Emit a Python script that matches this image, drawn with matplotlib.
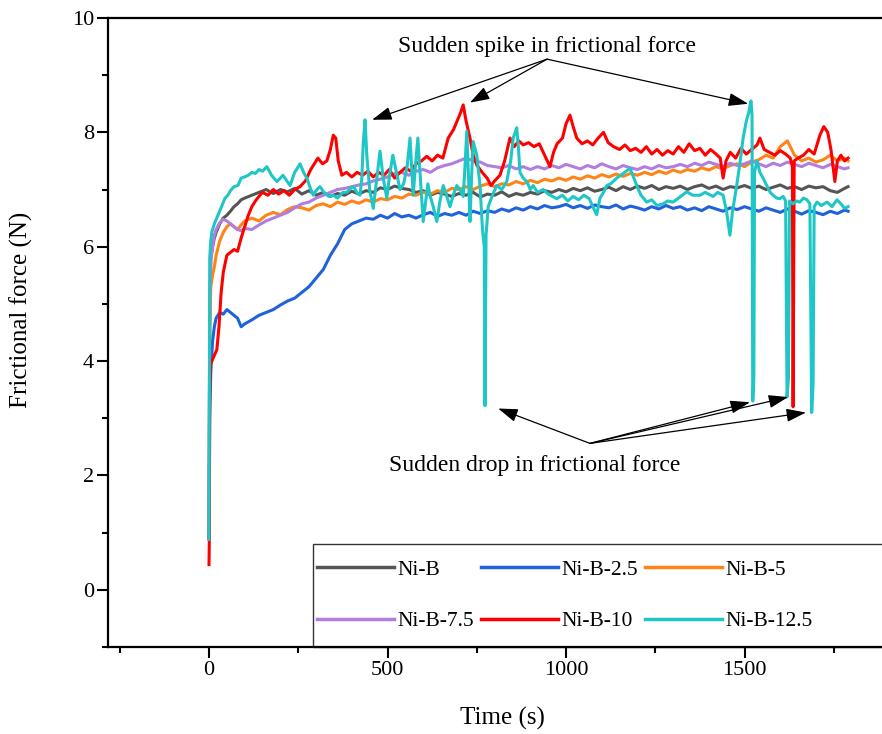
import matplotlib
matplotlib.use("Agg")
import matplotlib.pyplot as plt
from matplotlib.patches import Rectangle
from matplotlib.ticker import MultipleLocator

plt.rcParams["font.family"] = ["Liberation Serif", "DejaVu Serif"]

# sampling times (s) shared by the four smoother curves
time_s = [0, 2, 5, 10, 15, 20, 30, 40, 50, 60, 70, 80, 90, 100,
          120, 140, 160, 180, 200, 220, 240, 260, 280, 300,
          320, 340, 360, 380, 400, 420, 440, 460, 480, 500,
          520, 540, 560, 580, 600, 620, 640, 660, 680, 700,
          720, 740, 760, 780, 800, 820, 840, 860, 880, 900,
          920, 940, 960, 980, 1000, 1020, 1040, 1060, 1080, 1100,
          1120, 1140, 1160, 1180, 1200, 1220, 1240, 1260, 1280, 1300,
          1320, 1340, 1360, 1380, 1400, 1420, 1440, 1460, 1480, 1500,
          1520, 1540, 1560, 1580, 1600, 1620, 1640, 1660, 1680, 1700,
          1720, 1740, 1760, 1780, 1790]

nib = [0.9, 4.6, 5.8, 6.0, 6.15, 6.25, 6.4, 6.5, 6.55, 6.62, 6.7, 6.75, 6.82, 6.85,
       6.9, 6.95, 7.0, 6.93, 7.0, 6.96, 7.02, 6.92, 6.98, 6.9,
       6.95, 6.88, 6.93, 6.9, 6.97, 6.92, 6.98, 6.95, 7.03, 7.0,
       7.06, 7.02, 7.0, 6.95, 6.98, 6.9, 6.95, 6.92, 6.88, 6.93,
       6.9, 6.95, 6.87, 6.92, 6.9, 6.96, 6.88, 6.93, 6.9, 6.95,
       6.92, 6.98, 6.95, 7.0, 6.96, 7.02, 6.98, 7.03, 6.97, 7.0,
       7.04, 6.98, 7.05, 7.0, 7.06, 7.02, 7.07, 7.0, 7.05, 7.02,
       7.06, 7.0, 7.05, 7.08, 7.02, 7.06, 7.0, 7.05, 7.03, 7.07,
       7.02, 7.06, 7.0, 7.04, 7.08, 7.02, 7.05, 7.0, 7.06, 7.03,
       7.05, 6.98, 6.95, 7.02, 7.05]

nib_25 = [0.9, 3.0, 3.8, 4.35, 4.6, 4.75, 4.85, 4.82, 4.9, 4.85, 4.8, 4.75, 4.6, 4.65,
          4.72, 4.8, 4.85, 4.9, 4.98, 5.05, 5.1, 5.2, 5.3, 5.45,
          5.6, 5.85, 6.05, 6.3, 6.4, 6.45, 6.5, 6.48, 6.55, 6.5,
          6.58, 6.52, 6.55, 6.5, 6.56, 6.6, 6.53, 6.58, 6.55, 6.6,
          6.55, 6.62, 6.58, 6.63, 6.6, 6.66, 6.62, 6.68, 6.64, 6.7,
          6.66, 6.72, 6.68, 6.7, 6.74, 6.68, 6.72, 6.67, 6.73, 6.7,
          6.68, 6.73, 6.66, 6.71, 6.68, 6.64, 6.7, 6.66, 6.72, 6.67,
          6.7, 6.64, 6.68, 6.63, 6.7, 6.66, 6.62, 6.68, 6.65, 6.7,
          6.66, 6.62, 6.68, 6.64, 6.6, 6.66, 6.62, 6.57, 6.63, 6.6,
          6.56, 6.62, 6.58, 6.64, 6.62]

nib_5 = [0.9, 4.6, 5.3, 5.5, 5.65, 5.85, 6.1, 6.25, 6.35, 6.4, 6.35, 6.3, 6.38, 6.45,
         6.5, 6.45, 6.55, 6.6, 6.56, 6.65, 6.7, 6.68, 6.64, 6.72,
         6.75, 6.7, 6.78, 6.74, 6.8, 6.76, 6.82, 6.78, 6.84, 6.82,
         6.88, 6.85, 6.92, 6.9, 6.95, 6.92, 6.98, 6.95, 7.02, 7.0,
         7.05, 7.0, 7.06, 7.1, 7.05, 7.1, 7.08, 7.14, 7.1, 7.16,
         7.12, 7.18, 7.15, 7.2, 7.16, 7.22, 7.18, 7.24, 7.2, 7.26,
         7.22, 7.27, 7.23, 7.28, 7.25, 7.3, 7.26, 7.32, 7.28, 7.34,
         7.3, 7.35, 7.32, 7.38, 7.34, 7.4, 7.36, 7.42, 7.45, 7.4,
         7.48, 7.52, 7.6, 7.55, 7.75, 7.85, 7.6, 7.5, 7.55, 7.48,
         7.52, 7.6, 7.5, 7.55, 7.5]

nib_75 = [0.9, 5.0, 5.75, 6.0, 6.2, 6.3, 6.42, 6.48, 6.45, 6.4, 6.35, 6.3, 6.28, 6.32,
          6.3, 6.38, 6.45, 6.5, 6.55, 6.6, 6.68, 6.75, 6.78, 6.85,
          6.9, 6.95, 7.0, 7.02, 7.05, 7.08, 7.1, 7.15, 7.18, 7.22,
          7.28, 7.3, 7.25, 7.32, 7.35, 7.3, 7.38, 7.42, 7.45, 7.5,
          7.55, 7.5, 7.48, 7.42, 7.4, 7.38, 7.42, 7.36, 7.4, 7.35,
          7.4, 7.36, 7.42, 7.38, 7.44, 7.4, 7.36, 7.42, 7.38, 7.45,
          7.4, 7.36, 7.42, 7.38, 7.35, 7.4, 7.36, 7.42, 7.38, 7.4,
          7.44, 7.4, 7.46, 7.42, 7.48, 7.44, 7.4, 7.46, 7.42, 7.45,
          7.5, 7.45, 7.4, 7.46, 7.42, 7.48, 7.44, 7.4, 7.46, 7.42,
          7.38, 7.44, 7.4, 7.36, 7.38]

red_time = [0, 1, 2, 4, 8, 15, 22, 28, 34, 40,
            50, 60, 70, 80, 90, 100, 110, 120, 130, 140,
            150, 165, 180, 195, 210, 225, 240, 255, 270, 285,
            295, 305, 318, 330, 340, 348, 355, 362, 372, 385,
            400, 415, 430, 445, 460, 475, 490, 505, 520, 535,
            550, 565, 580, 595, 610, 625, 640, 655, 670, 685,
            695, 705, 712, 720, 731, 740, 750, 765, 779, 790,
            800, 815, 828, 843, 855, 868, 880, 895, 910, 925,
            940, 955, 965, 975, 990, 1000, 1011, 1020, 1030, 1045,
            1060, 1075, 1090, 1105, 1118, 1133, 1150, 1165, 1180, 1195,
            1210, 1225, 1240, 1255, 1270, 1285, 1300, 1315, 1330, 1345,
            1360, 1375, 1390, 1405, 1420, 1432, 1440, 1448, 1460, 1475,
            1490, 1505, 1520, 1535, 1543, 1555, 1570, 1585, 1600, 1615,
            1628, 1634, 1636, 1639, 1650, 1665, 1680, 1695, 1711, 1722,
            1733, 1742, 1753, 1760, 1770, 1780, 1790]
nib_10 = [0.44, 0.9, 3.5, 3.95, 4.0, 4.1, 4.2, 4.6, 5.2, 5.55,
          5.85, 5.9, 5.95, 5.92, 6.15, 6.35, 6.55, 6.7, 6.8, 6.88,
          6.95, 6.9, 7.0, 6.92, 6.98, 6.9, 7.0, 7.05, 7.15, 7.35,
          7.45, 7.55, 7.45, 7.5, 7.7, 7.95, 7.9, 7.5, 7.25, 7.3,
          7.22, 7.3, 7.25, 7.32, 7.22, 7.3, 7.25, 7.35, 7.2, 7.3,
          7.38, 7.32, 7.45, 7.5, 7.58, 7.5, 7.6, 7.55, 7.9, 8.05,
          8.2, 8.35, 8.48, 8.2, 7.9, 7.6, 7.43, 7.3, 7.2, 7.07,
          7.15, 7.25, 7.5, 7.9, 7.75, 7.85, 7.78, 7.82, 7.75, 7.8,
          7.6, 7.4, 7.65, 7.8, 7.9, 8.15, 8.3, 8.1, 7.9, 7.8,
          7.85, 7.78, 7.9, 8.0, 7.82, 7.75, 7.7, 7.78, 7.68, 7.72,
          7.65, 7.75, 7.62, 7.7, 7.6, 7.68, 7.62, 7.75, 7.65, 7.8,
          7.68, 7.72, 7.6, 7.7, 7.62, 7.55, 7.2, 7.5, 7.65, 7.55,
          7.72, 7.62, 7.7, 7.78, 7.9, 7.7, 7.65, 7.6, 7.68, 7.62,
          7.55, 7.4, 3.2, 7.5, 7.55, 7.6, 7.7, 7.62, 7.95, 8.1,
          8.0, 7.7, 7.14, 7.5, 7.6, 7.5, 7.55]

cyan_time = [0, 2, 5, 8, 15, 25, 35, 45, 53, 60,
             70, 81, 90, 100, 110, 120, 130, 140, 150, 162,
             175, 190, 200, 207, 218, 227, 240, 255, 265, 274,
             285, 292, 302, 311, 322, 335, 348, 360, 375, 386,
             396, 405, 414, 423, 428, 432, 437, 442, 450, 460,
             470, 479, 488, 498, 507, 515, 525, 535, 545, 555,
             563, 572, 578, 585, 592, 600, 607, 613, 619, 628,
             638, 647, 656, 665, 675, 684, 694, 703, 712, 717,
             722, 727, 731, 736, 740, 750, 759, 766, 771, 773,
             776, 782, 794, 806, 820, 834, 845, 852, 862, 867,
             871, 880, 890, 900, 908, 920, 936, 950, 962, 974,
             990, 1005, 1020, 1035, 1050, 1065, 1075, 1086, 1095, 1105,
             1114, 1125, 1142, 1160, 1179, 1190, 1198, 1210, 1226, 1240,
             1255, 1272, 1285, 1300, 1315, 1338, 1355, 1375, 1390, 1412,
             1425, 1440, 1450, 1459, 1466, 1478, 1488, 1496, 1505, 1512,
             1518, 1521, 1523, 1526, 1528, 1535, 1543, 1552, 1562, 1572,
             1580, 1590, 1599, 1608, 1615, 1619, 1623, 1626, 1636, 1646,
             1655, 1665, 1675, 1683, 1688, 1692, 1695, 1703, 1715, 1731,
             1745, 1759, 1770, 1780, 1790]
nib_125 = [0.88, 5.8, 6.1, 6.26, 6.4, 6.55, 6.7, 6.85, 6.9, 6.98,
           7.05, 7.07, 7.2, 7.22, 7.25, 7.3, 7.28, 7.35, 7.32, 7.4,
           7.25, 7.14, 7.2, 7.25, 7.15, 7.07, 7.3, 7.45, 7.3, 7.2,
           7.0, 6.9, 7.0, 7.05, 6.95, 6.88, 6.9, 6.85, 6.95, 6.95,
           7.02, 7.05, 6.95, 6.9, 7.2, 7.8, 8.22, 7.6, 7.0, 6.67,
           7.2, 7.67, 7.2, 6.85, 7.3, 7.6, 7.3, 7.0, 7.1, 7.4,
           7.9, 6.9, 7.4, 7.9, 7.2, 6.44, 6.8, 7.1, 6.9, 6.7,
           6.44, 6.8, 7.07, 6.9, 6.7, 6.9, 7.07, 7.0, 6.88, 7.4,
           8.02, 7.2, 6.44, 7.3, 7.84, 7.6, 7.07, 6.3, 6.0, 3.22,
           6.2, 6.7, 6.9, 7.07, 7.0, 7.14, 7.5, 7.9, 8.08, 7.7,
           7.3, 7.2, 7.14, 7.0, 7.07, 6.95, 7.0, 6.92, 6.88, 6.84,
           6.9, 6.8, 6.88, 6.82, 6.9, 6.84, 6.7, 6.56, 6.85, 6.95,
           7.07, 7.1, 7.2, 7.28, 7.37, 7.2, 7.07, 6.9, 6.78, 6.82,
           6.72, 6.75, 6.8, 6.78, 6.85, 6.96, 6.9, 6.9, 6.95, 6.88,
           6.95, 6.9, 6.6, 6.2, 6.6, 7.07, 7.5, 7.9, 8.2, 8.35,
           8.55, 8.3, 3.3, 3.7, 7.3, 7.5, 7.3, 7.2, 7.07, 6.95,
           6.9, 6.85, 6.84, 6.88, 6.8, 3.37, 3.7, 6.8, 6.75, 6.8,
           6.78, 6.85, 6.82, 6.75, 3.1, 3.6, 6.7, 6.78, 6.72, 6.78,
           6.7, 6.82, 6.75, 6.67, 6.7]

labels = ["Ni-B", "Ni-B-2.5", "Ni-B-5", "Ni-B-7.5", "Ni-B-10", "Ni-B-12.5"]
colors = ["#555555", "#1f62dc", "#ff8418", "#b27ddf", "#ff0000", "#1ec6c6"]

fig = plt.figure(figsize=(8.82, 7.34), dpi=100)
ax = fig.add_axes([0.1224, 0.1186, 0.8776, 0.8569])

lw = 2.2
h = []
h += ax.plot(time_s, nib, color=colors[0], lw=lw, label=labels[0])
h += ax.plot(time_s, nib_25, color=colors[1], lw=lw, label=labels[1])
h += ax.plot(time_s, nib_5, color=colors[2], lw=lw, label=labels[2])
h += ax.plot(time_s, nib_75, color=colors[3], lw=lw, label=labels[3])
h += ax.plot(red_time, nib_10, color=colors[4], lw=lw, label=labels[4])
h += ax.plot(cyan_time, nib_125, color=colors[5], lw=lw, label=labels[5])

ax.set_xlim(-283, 1885)
ax.set_ylim(-1, 10)
ax.xaxis.set_major_locator(MultipleLocator(500))
ax.xaxis.set_minor_locator(MultipleLocator(250))
ax.yaxis.set_major_locator(MultipleLocator(2))
ax.yaxis.set_minor_locator(MultipleLocator(1))
ax.tick_params(which="major", direction="out", length=8, width=1.5, labelsize=16, pad=2)
ax.tick_params(which="minor", direction="out", length=4.5, width=1.5)
ax.spines["right"].set_visible(False)
for s in ["left", "bottom", "top"]:
    ax.spines[s].set_linewidth(1.6)

ax.set_xlabel("Time (s)", fontsize=18)
ax.set_ylabel("Frictional force (N)", fontsize=18)
ax.yaxis.label.set_va("center")
ax.xaxis.label.set_va("center")
ax.xaxis.set_label_coords(0.51, -0.113)
ax.yaxis.set_label_coords(-0.112, 0.536)

# annotations
arrow = dict(arrowstyle="-|>,head_length=0.8,head_width=0.27", color="black", lw=0.9,
             mutation_scale=15, shrinkA=0, shrinkB=0)
ax.text(947, 9.51, "Sudden spike in frictional force", ha="center", va="center", fontsize=17)
for xy in [(457, 8.22), (731, 8.52), (1510, 8.5)]:
    ax.annotate("", xy=xy, xytext=(947, 9.28), arrowprops=arrow)
ax.text(913, 2.17, "Sudden drop in frictional force", ha="center", va="center", fontsize=17)
for xy in [(810, 3.17), (1515, 3.28), (1622, 3.37), (1672, 3.1)]:
    ax.annotate("", xy=xy, xytext=(1067, 2.56), arrowprops=arrow)

# legend in two rows of three
order = [0, 3, 1, 4, 2, 5]
leg = ax.legend([h[i] for i in order], [labels[i] for i in order], ncol=3,
                loc="lower left", bbox_to_anchor=(0.27, 0.025), frameon=False,
                fontsize=15.5, handlelength=3.6, handletextpad=0.15,
                columnspacing=0.3, labelspacing=1.45, borderpad=0, borderaxespad=0)
for line in leg.get_lines():
    line.set_linewidth(2.5)
ax.add_patch(Rectangle((0.265, 0.0), 0.8, 0.163, transform=ax.transAxes,
                       fill=False, edgecolor="#333333", lw=1.0, clip_on=False))

fig.savefig("out.png", dpi=100)
